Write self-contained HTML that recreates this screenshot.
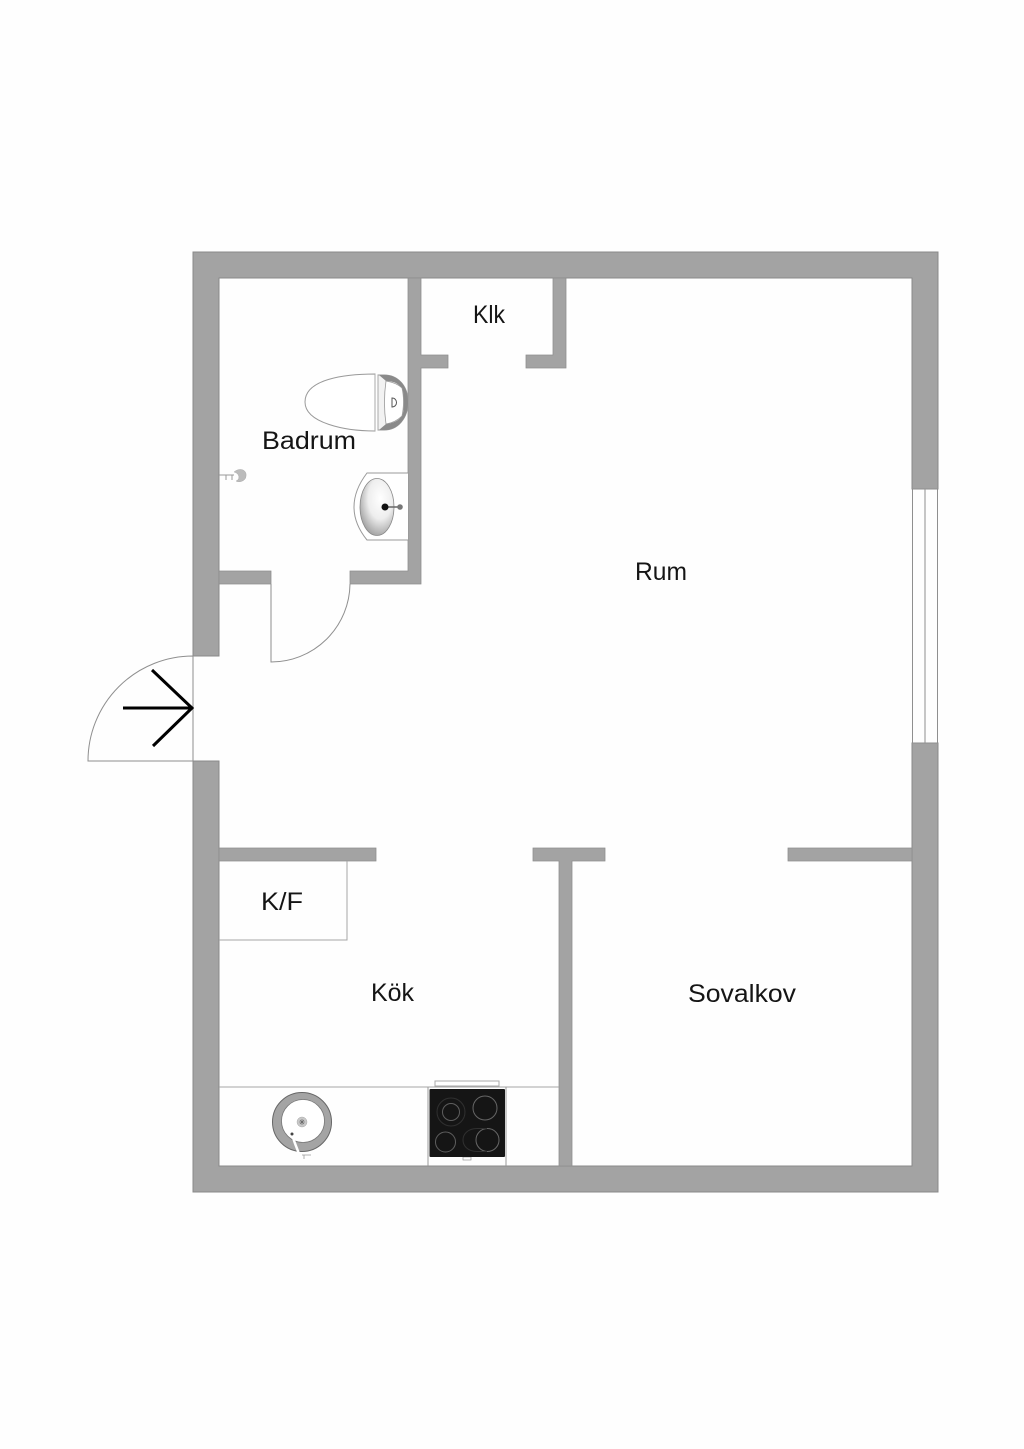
<!DOCTYPE html>
<html><head><meta charset="utf-8"><title>Planritning</title>
<style>
html,body{margin:0;padding:0;background:#fff}
svg{display:block}
text{font-family:"Liberation Sans",sans-serif;font-size:25px;fill:#151515}
.w{fill:#a3a3a3}
.l{fill:none;stroke:#8f8f8f;stroke-width:1}
</style></head><body>
<svg width="1024" height="1449" viewBox="0 0 1024 1449" xmlns="http://www.w3.org/2000/svg">
<defs>
<radialGradient id="bas" cx="0.6" cy="0.35" r="0.8"><stop offset="0" stop-color="#fff"/><stop offset="0.45" stop-color="#eee"/><stop offset="1" stop-color="#858585"/></radialGradient>
</defs>
<rect width="1024" height="1449" fill="#fefefe"/>
<!-- walls -->
<path class="w" stroke="#8a8a8a" stroke-width="1" fill-rule="evenodd" d="M193,252H938V489H912V278H219V656H193ZM912,743H938V1192H193V761H219V1166H912Z"/>
<g class="w" stroke="#8f8f8f" stroke-width="0.8">
<path d="M408,278H421V355H448V368H421V584H350V571H408ZM219,571H271V584H219Z"/>
<path d="M553,278H566V368H526V355H553Z"/>
<path d="M219,848H376V861H219Z"/>
<path d="M533,848H605V861H572V1166H559V861H533Z"/>
<path d="M788,848H912V861H788Z"/>
</g>
<!-- window -->
<path class="l" d="M912.5,489V743M925,489V743M937.5,489V743M912,489H938M912,743H938"/>
<!-- doors -->
<path class="l" d="M193,656V761M193,656A105,105 0 0 0 88,761H193"/>
<path class="l" d="M271,584V662A79,79 0 0 0 350,584"/>
<path d="M123,708H192M152,670L192,708L153,746" fill="none" stroke="#000" stroke-width="3"/>
<!-- K/F -->
<path d="M219,940H347V861" fill="none" stroke="#a5a5a5" stroke-width="1"/>
<!-- counter -->
<path d="M219,1087H559" stroke="#a5a5a5" stroke-width="1"/>
<!-- toilet -->
<path d="M375,374C345,374 305,379 305,402C305,423 345,431 375,431Z" fill="#fff" stroke="#999" stroke-width="1"/>
<path d="M378,375H384C398,375 408,386 408,402C408,418 398,430 384,430H378Z" fill="#f2f2f2" stroke="#999"/>
<path d="M379,375L386,381C394,381 401,384 403,392C404,398 404,408 403,413C401,420 394,423 386,424L379,430H385C398,430 408,418 408,402C408,386 398,375 385,375Z" fill="#8a8a8a"/>
<path d="M386,381C384,395 384,410 386,424C392,423 398,420 402,416C404,407 404,396 402,388C398,384 392,382 386,381Z" fill="#fff" stroke="#999" stroke-width="0.8"/>
<path d="M375,374V431M378,375V430" stroke="#aaa"/>
<path d="M392,398V407C398,407 398,398 392,398Z" fill="#fff" stroke="#555" stroke-width="1"/>
<!-- basin -->
<path d="M408,473H367Q354,490 354,507Q354,524 367,540H408" fill="#fff" stroke="#999"/>
<ellipse cx="377" cy="507" rx="17" ry="28.5" fill="url(#bas)" stroke="#888" stroke-width="0.8"/>
<path d="M385,507H400" stroke="#666" stroke-width="1.5"/>
<circle cx="385" cy="507" r="3.5" fill="#111"/>
<circle cx="400" cy="507" r="2.8" fill="#777"/>
<!-- shower -->
<path d="M219,475H234M226,475V480M232,475V480" stroke="#999" stroke-width="1" fill="none"/>
<path d="M234,472C240,467 247,470 246,476C246,481 239,483 236,481C241,479 239,473 234,472Z" fill="#bbb" stroke="#aaa" stroke-width="0.5"/>
<!-- kitchen sink -->
<circle cx="302" cy="1122" r="29.5" fill="#a4a4a4" stroke="#666" stroke-width="1"/>
<circle cx="303" cy="1121" r="21.5" fill="#fff" stroke="#777" stroke-width="0.8"/>
<circle cx="302" cy="1122" r="5" fill="#c8c8c8" stroke="#aaa" stroke-width="0.5"/>
<path d="M299,1122H305M302,1119V1125M300,1120L304,1124M304,1120L300,1124" stroke="#666" stroke-width="0.6"/>
<path d="M292,1134C294,1142 297,1148 299,1154" fill="none" stroke="#fff" stroke-width="2.5"/>
<circle cx="292" cy="1134" r="1.5" fill="#444"/>
<path d="M302,1155H311M304,1155V1159" stroke="#999" stroke-width="0.8"/>
<!-- stove -->
<path d="M428,1087V1166M506,1087V1166" stroke="#999" stroke-width="1"/>
<rect x="435" y="1081" width="64" height="5" fill="#fff" stroke="#aaa"/>
<rect x="463" y="1157" width="8" height="3" fill="#fff" stroke="#999" stroke-width="0.7"/>
<rect x="429.500" y="1089" width="75.500" height="68" rx="1" fill="#151515"/>
<g fill="none" stroke-width="1">
<circle cx="451" cy="1112" r="8.500" stroke="#5e5e5e"/>
<circle cx="451" cy="1112" r="14" stroke="#303030"/>
<circle cx="485" cy="1108" r="12" stroke="#666"/>
<circle cx="445.500" cy="1142" r="10" stroke="#5e5e5e"/>
<circle cx="487.500" cy="1140" r="11.500" stroke="#666"/>
<path d="M487,1128.500H477C468,1128.500 463,1134 463,1140C463,1146 468,1151.500 477,1151.500H487" stroke="#303030"/>
</g>
<!-- labels -->
<text x="473" y="323" textLength="32" lengthAdjust="spacingAndGlyphs">Klk</text>
<text x="262" y="449" textLength="94" lengthAdjust="spacingAndGlyphs">Badrum</text>
<text x="635" y="580" textLength="52" lengthAdjust="spacingAndGlyphs">Rum</text>
<text x="261" y="910" textLength="42" lengthAdjust="spacingAndGlyphs">K/F</text>
<text x="371" y="1001" textLength="43" lengthAdjust="spacingAndGlyphs">Kök</text>
<text x="688" y="1002" textLength="108" lengthAdjust="spacingAndGlyphs">Sovalkov</text>
</svg>
</body></html>
